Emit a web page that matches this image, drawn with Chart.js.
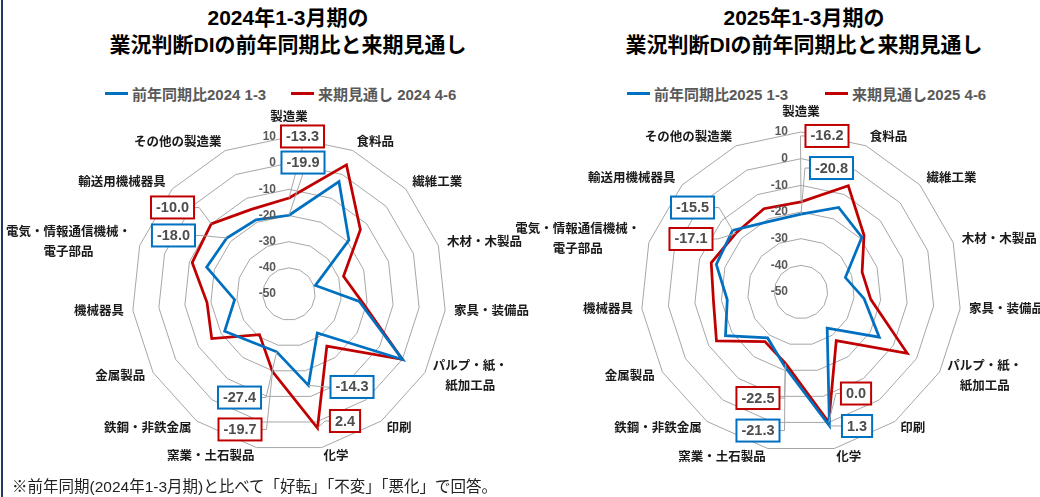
<!DOCTYPE html>
<html><head><meta charset="utf-8">
<script src="https://cdn.jsdelivr.net/npm/chart.js@4.4.1/dist/chart.umd.min.js"></script>
<style>
html,body{margin:0;padding:0;background:#fff;width:1040px;height:497px;overflow:hidden;font-family:"Liberation Sans","Noto Sans CJK JP",sans-serif;}
.title{position:absolute;top:4px;width:520px;text-align:center;font-weight:bold;font-size:21px;line-height:27px;color:#000;}
.legend{position:absolute;top:83px;height:20px;font-weight:bold;font-size:15px;color:#595959;white-space:nowrap;display:flex;align-items:center;}
.sw{display:inline-block;width:23px;height:3px;margin-right:4px;}
canvas{position:absolute;top:0;}
.note{position:absolute;left:12px;top:477px;font-size:15.5px;line-height:20px;color:#222;white-space:nowrap;}
.border{position:absolute;left:1px;top:0;width:2px;height:497px;background:#203864;}
</style></head>
<body>
<div class="border"></div>
<div class="title" id="t1" style="left:28px"></div>
<div class="title" id="t2" style="left:544px"></div>
<div class="legend" id="l1a" style="left:105px"></div>
<div class="legend" id="l1b" style="left:291px"></div>
<div class="legend" id="l2a" style="left:627px"></div>
<div class="legend" id="l2b" style="left:825px"></div>
<canvas id="c1" width="560" height="497" style="left:0"></canvas>
<canvas id="c2" width="560" height="497" style="left:480px"></canvas>
<div class="note" id="note"></div>
<script>
// ---- data ----
const categories = ['製造業','食料品','繊維工業','木材・木製品','家具・装備品',['パルプ・紙・','紙加工品'],'印刷','化学','窯業・土石製品','鉄鋼・非鉄金属','金属製品','機械器具',['電気・情報通信機械・','電子部品'],'輸送用機械器具','その他の製造業'];
const tickValues = [10, 0, -10, -20, -30, -40, -50];
const prev2024 = [-19.9, -3.0, -19.2, -39.4, -23.0, 0.1, -31.6, -14.3, -27.4, -27.0, -21.6, -29.1, -16.9, -18.0, -19.0];
const next2024 = [-13.3, 4.0, -13.3, -28.1, -22.0, 0.0, -25.4, 2.4, -19.7, -30.8, -15.9, -18.5, -11.1, -10.0, -14.6];
const prev2025 = [-20.8, -15.3, -19.3, -32.5, -26.2, -16.1, -33.3, 1.3, -21.3, -28.7, -17.3, -22.2, -16.6, -15.5, -21.0];
const next2025 = [-16.2, -6.4, -18.2, -25.9, -23.7, -4.0, -27.5, 0.0, -22.5, -27.0, -13.4, -17.0, -14.6, -17.1, -15.8];
const legend2024 = ['前年同期比2024 1-3', '来期見通し 2024  4-6'];
const legend2025 = ['前年同期比2025 1-3', '来期見通し2025 4-6'];
const title2024 = ['2024年1-3月期の', '業況判断DIの前年同期比と来期見通し'];
const title2025 = ['2025年1-3月期の', '業況判断DIの前年同期比と来期見通し'];
const footnote = '※前年同期(2024年1-3月期)と比べて「好転」「不変」「悪化」で回答。';

// ---- styles ----
const BLUE = '#0070C0', RED = '#C00000';
// callout placement: dataset index, category index, box offset from point (px)
const callouts2024 = [
  {ds:1, i:0, dx:13.5, dy:-61.5}, {ds:0, i:0, dx:14, dy:-52.7},
  {ds:1, i:13, dx:-38.7, dy:-16.5}, {ds:0, i:13, dx:-53.3, dy:-2.5},
  {ds:0, i:7, dx:43.6, dy:1.6}, {ds:1, i:7, dx:27.5, dy:-7.1},
  {ds:0, i:8, dx:-37.2, dy:45.7}, {ds:1, i:8, dx:-32.5, dy:57.9}
];
const callouts2025 = [
  {ds:1, i:0, dx:26, dy:-65.9}, {ds:0, i:0, dx:30.5, dy:-46.1},
  {ds:0, i:13, dx:-40.1, dy:-22.9}, {ds:1, i:13, dx:-44.8, dy:5.7},
  {ds:1, i:8, dx:-27.8, dy:34.3}, {ds:0, i:8, dx:-27.1, dy:63.7},
  {ds:1, i:7, dx:27.3, dy:-28.9}, {ds:0, i:7, dx:27.6, dy:0.2}
];

document.getElementById('t1').innerHTML = title2024.join('<br>');
document.getElementById('t2').innerHTML = title2025.join('<br>');
function leg(id, color, text){
  const el = document.getElementById(id);
  const sw = document.createElement('span'); sw.className='sw'; sw.style.background=color;
  el.appendChild(sw); el.appendChild(document.createTextNode(text));
}
leg('l1a', BLUE, legend2024[0]); leg('l1b', RED, legend2024[1]);
leg('l2a', BLUE, legend2025[0]); leg('l2b', RED, legend2025[1]);
document.getElementById('note').textContent = footnote;

const decor = {
  id: 'decor',
  afterDatasetsDraw(chart, args, opts) {
    const ctx = chart.ctx, s = chart.scales.r;
    const cx = s.xCenter, cy = s.yCenter, R = s.drawingArea;
    const n = chart.data.labels.length;
    ctx.save();
    // tick labels
    ctx.font = 'bold 12px "Liberation Sans"';
    ctx.fillStyle = '#595959'; ctx.textAlign = 'right'; ctx.textBaseline = 'middle';
    tickValues.forEach(v => ctx.fillText(String(v), cx - 13, cy - s.getDistanceFromCenterForValue(v)));
    // point labels
    ctx.font = 'bold 12.5px "Liberation Sans","Noto Sans CJK JP"';
    ctx.fillStyle = '#1a1a1a';
    chart.data.labels.forEach((lab, i) => {
      const lines = Array.isArray(lab) ? lab : [lab];
      const ang = 360 / n * i;
      if (i === 0) {
        const p = s.getPointPosition(i, R + 13);
        ctx.textAlign = 'center'; ctx.textBaseline = 'bottom';
        ctx.fillText(lines[0], p.x, p.y);
        return;
      }
      const p = s.getPointPosition(i, R + 9);
      const lh = 20;
      const w = Math.max(...lines.map(l => ctx.measureText(l).width));
      ctx.textBaseline = 'middle'; ctx.textAlign = 'center';
      const left = ang < 180 ? p.x : p.x - w;
      lines.forEach((l, k) => {
        const y = p.y - (lines.length - 1) * lh / 2 + k * lh;
        ctx.fillText(l, left + w / 2, y);
      });
    });
    // callouts
    const list = opts.callouts || [];
    ctx.font = 'bold 14.5px "Liberation Sans"';
    const boxes = list.map(c => {
      const v = chart.data.datasets[c.ds].data[c.i];
      const p = s.getPointPosition(c.i, s.getDistanceFromCenterForValue(v));
      const txt = v.toFixed(1);
      const bw = ctx.measureText(txt).width + 10, bh = 22;
      return {p, txt, bw, bh, bx: p.x + c.dx, by: p.y + c.dy, color: chart.data.datasets[c.ds].borderColor};
    });
    ctx.strokeStyle = '#a6a6a6'; ctx.lineWidth = 1;
    boxes.forEach(b => {
      let sx, sy, ex;
      if (b.p.x < b.bx - b.bw / 2) { sx = b.bx - b.bw / 2; sy = b.by; ex = sx - 5; }
      else if (b.p.x > b.bx + b.bw / 2) { sx = b.bx + b.bw / 2; sy = b.by; ex = sx + 5; }
      else { sx = b.bx; sy = b.p.y > b.by ? b.by + b.bh / 2 : b.by - b.bh / 2; ex = sx; }
      ctx.beginPath(); ctx.moveTo(sx, sy); ctx.lineTo(ex, sy); ctx.lineTo(b.p.x, b.p.y); ctx.stroke();
    });
    boxes.forEach(b => {
      ctx.fillStyle = '#fff';
      ctx.fillRect(b.bx - b.bw / 2, b.by - b.bh / 2, b.bw, b.bh);
      ctx.strokeStyle = b.color; ctx.lineWidth = 2;
      ctx.strokeRect(b.bx - b.bw / 2, b.by - b.bh / 2, b.bw, b.bh);
      ctx.fillStyle = '#4d4d4d'; ctx.textAlign = 'center'; ctx.textBaseline = 'middle';
      ctx.fillText(b.txt, b.bx, b.by + 0.5);
    });
    ctx.restore();
  }
};

function makeChart(id, prev, next, leg, callouts, pad) {
  return new Chart(document.getElementById(id), {
    type: 'radar',
    data: {
      labels: categories,
      datasets: [
        {label: leg[0], data: prev, borderColor: BLUE, borderWidth: 2.75, pointRadius: 0, fill: false, tension: 0},
        {label: leg[1], data: next, borderColor: RED, borderWidth: 2.75, pointRadius: 0, fill: false, tension: 0}
      ]
    },
    options: {
      responsive: false, animation: false,
      layout: {padding: pad},
      plugins: {legend: {display: false}, title: {display: false}, tooltip: {enabled: false}, decor: {callouts}},
      scales: {r: {
        min: -50, max: 10,
        ticks: {display: false, stepSize: 10},
        grid: {color: '#a6a6a6', lineWidth: 1, circular: false},
        angleLines: {display: false},
        pointLabels: {display: false}
      }}
    },
    plugins: [decor]
  });
}
makeChart('c1', prev2024, next2024, legend2024, callouts2024, {left: 132, right: 114, top: 137, bottom: 46});
makeChart('c2', prev2025, next2025, legend2025, callouts2025, {left: 161, right: 79, top: 132, bottom: 45});
</script>
</body></html>
